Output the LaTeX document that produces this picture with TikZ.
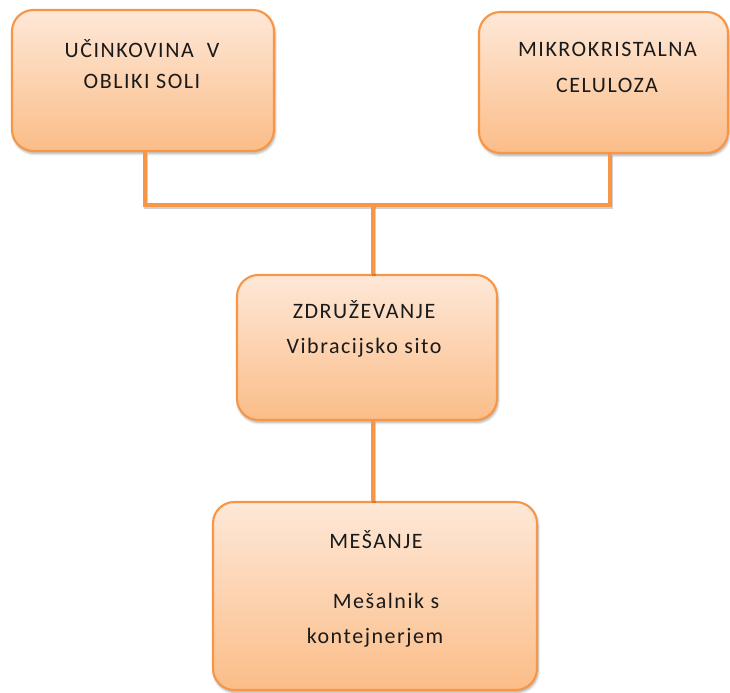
\documentclass[tikz,border=0pt]{standalone}
\usepackage{fontspec}
\setmainfont{Carlito}[LetterSpace=7]
\usetikzlibrary{shadows.blur}
\definecolor{orng}{HTML}{F79646}
\definecolor{ftop}{HTML}{FEE8D8}
\definecolor{fbot}{HTML}{FBBD88}
\definecolor{txt}{HTML}{1A1A1A}
\begin{document}
\begin{tikzpicture}[x=0.75pt,y=-0.75pt,
  box/.style={draw=orng, line width=1.6pt, rounded corners=16pt, top color=ftop, bottom color=fbot,
    inner sep=0pt, blur shadow={shadow xshift=0.8pt, shadow yshift=-1.8pt, shadow blur steps=6, shadow opacity=35}},
  lbl/.style={anchor=base, font=\fontsize{16.5}{20}\selectfont, text=txt, inner sep=0pt},
  conn/.style={draw=orng, line width=2.4pt},
  connshadow/.style={draw=black, opacity=0.18, line width=2.6pt, transform canvas={xshift=0.6pt, yshift=-1.4pt}},
  dim/.style n args={2}{minimum width=#1*0.75pt, minimum height=#2*0.75pt}]
\useasboundingbox (0,0) rectangle (730,692);
% junction coordinates
\coordinate (jl) at (145,205);
\coordinate (jr) at (610,205);
\coordinate (jm) at (373,205);
% boxes
\node[box, dim={262}{141}] (b1) at (143,80.5) {};
\node[box, dim={249}{141}] (b2) at (603.5,82.5) {};
\node[box, dim={260}{145}] (b3) at (367,347.5) {};
\node[box, dim={324}{188}] (b4) at (375,596) {};
% connector shadows
\draw[connshadow] (b1.south -| jl) -- (jl) -- (jr) -- (b2.south -| jr);
\draw[connshadow] (jm) -- (b3.north -| jm);
\draw[connshadow] (b3.south -| jm) -- (b4.north -| jm);
% connectors
\draw[conn] (b1.south -| jl) -- (jl) -- (jr) -- (b2.south -| jr);
\draw[conn] (jm) -- (b3.north -| jm);
\draw[conn] (b3.south -| jm) -- (b4.north -| jm);
% texts
\node[lbl] (t1a) at (142,58) {UČINKOVINA~~V};
\node[lbl] (t1b) at (142,88) {OBLIKI SOLI};
\node[lbl] (t2a) at (607.5,56) {MIKROKRISTALNA};
\node[lbl] (t2b) at (607,92) {CELULOZA};
\node[lbl] (t3a) at (364,318) {ZDRUŽEVANJE};
\node[lbl] (t3b) at (364,353) {Vibracijsko sito};
\node[lbl] (t4a) at (376,548) {MEŠANJE};
\node[lbl] (t4b) at (386,608) {Mešalnik s};
\node[lbl] (t4c) at (375,643) {kontejnerjem};
\end{tikzpicture}
\end{document}
